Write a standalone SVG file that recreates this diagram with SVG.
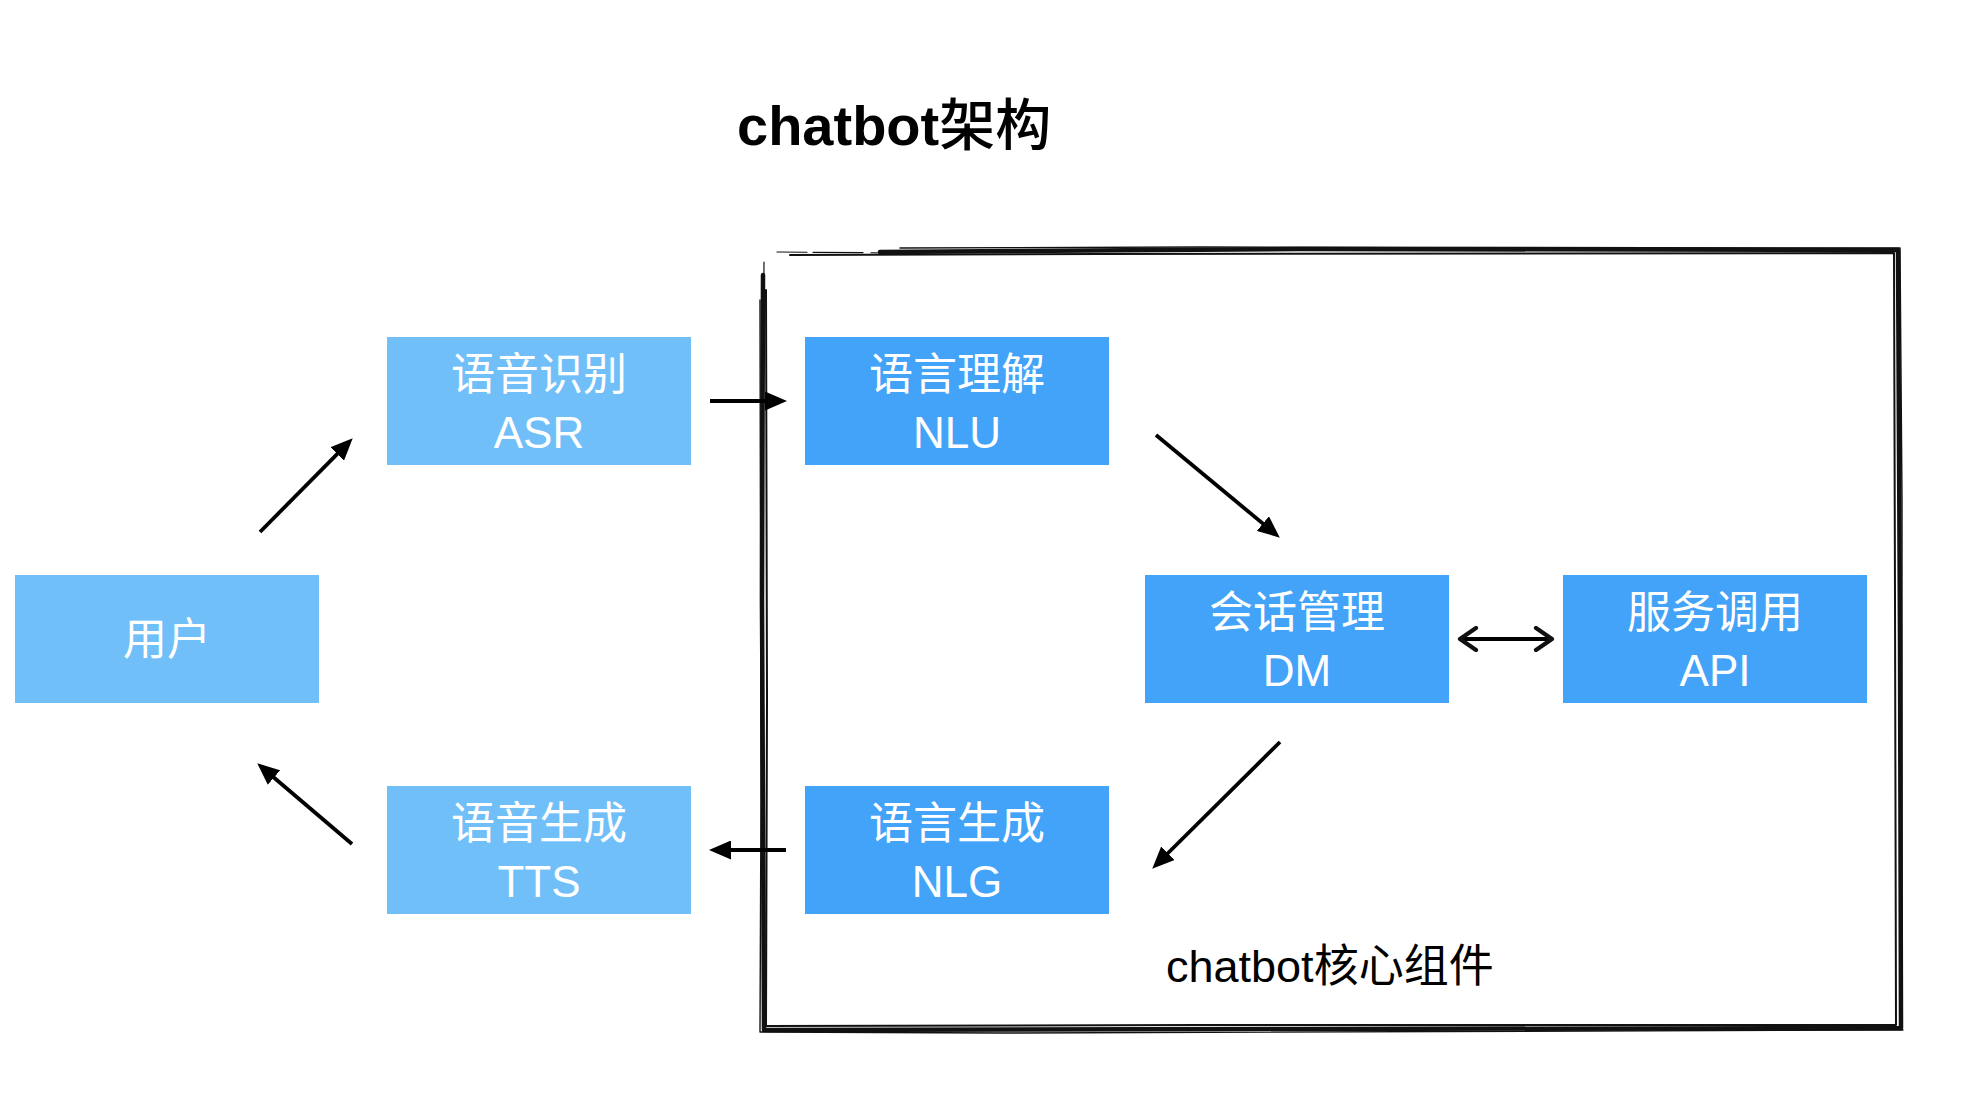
<svg xmlns="http://www.w3.org/2000/svg" width="1964" height="1096" viewBox="0 0 1964 1096">
<defs>
<style>
.light{fill:#70BFF8}
.dark{fill:#42A3F8}
.lbl{font-family:"Liberation Sans","Noto Sans CJK SC",sans-serif;font-size:44px;fill:#FFFFFF;text-anchor:middle}
.conn{stroke:#000;stroke-width:3.8;fill:none}
.frame{stroke:#111;fill:none;stroke-linejoin:round;stroke-linecap:round}
</style>
<marker id="ah" viewBox="0 0 22 19" refX="16" refY="9.5" markerWidth="22" markerHeight="19" markerUnits="userSpaceOnUse" orient="auto">
<path d="M0,0 L22,9.5 L0,19 z" fill="#000"/>
</marker>
<marker id="chev" viewBox="0 0 22 26" refX="19" refY="13" markerWidth="22" markerHeight="26" markerUnits="userSpaceOnUse" orient="auto-start-reverse">
<path d="M3,2 L19,13 L3,24" fill="none" stroke="#111" stroke-width="4.2" stroke-linecap="round" stroke-linejoin="round"/>
</marker>
</defs>
<rect width="1964" height="1096" fill="#FFFFFF"/>

<g id="title">
<text x="737" y="145" font-family="Liberation Sans,Noto Sans CJK SC,sans-serif" font-size="56" font-weight="bold" fill="#000">chatbot<tspan font-family="Noto Sans CJK SC,sans-serif" font-weight="500">架构</tspan></text>
</g>

<g id="frame">
<path class="frame" stroke-width="4.5" d="M763,275 L762,600 L764,1030 L1300,1029 L1901,1028 L1900,640 L1898,250 L1300,249 L880,252"/>
<path class="frame" stroke-width="2" d="M766,290 L767,700 L766,1026 L1200,1025 L1896,1025 L1895,600 L1894,253 L1100,254 L790,255"/>
<path class="frame" stroke-width="1.4" d="M760,300 L761,800 L760,1032 L1000,1033 L1903,1030 M1902,1030 L1902,500 L1900,248 L1200,247 L900,248"/>
<path class="frame" stroke-width="1.2" d="M764,262 L763,420"/>
<path class="frame" stroke-width="1.2" stroke-dasharray="30 6 50 8" d="M777,252 L900,253"/>
</g>

<g id="chatbot-core-label">
<text x="1166" y="982" font-family="Liberation Sans,Noto Sans CJK SC,sans-serif" font-size="45" fill="#000">chatbot<tspan font-family="Noto Sans CJK SC,sans-serif">核心组件</tspan></text>
</g>

<g id="user">
<rect class="light" x="15" y="575" width="304" height="128"/>
<text class="lbl" x="167" y="655" font-family="Noto Sans CJK SC,sans-serif">用户</text>
</g>

<g id="asr">
<rect class="light" x="387" y="337" width="304" height="128"/>
<text class="lbl" x="539" y="390">语音识别</text>
<text class="lbl" x="539" y="448">ASR</text>
</g>

<g id="tts">
<rect class="light" x="387" y="786" width="304" height="128"/>
<text class="lbl" x="539" y="839">语音生成</text>
<text class="lbl" x="539" y="897">TTS</text>
</g>

<g id="nlu">
<rect class="dark" x="805" y="337" width="304" height="128"/>
<text class="lbl" x="957" y="390">语言理解</text>
<text class="lbl" x="957" y="448">NLU</text>
</g>

<g id="dm">
<rect class="dark" x="1145" y="575" width="304" height="128"/>
<text class="lbl" x="1297" y="628">会话管理</text>
<text class="lbl" x="1297" y="686">DM</text>
</g>

<g id="api">
<rect class="dark" x="1563" y="575" width="304" height="128"/>
<text class="lbl" x="1715" y="628">服务调用</text>
<text class="lbl" x="1715" y="686">API</text>
</g>

<g id="nlg">
<rect class="dark" x="805" y="786" width="304" height="128"/>
<text class="lbl" x="957" y="839">语言生成</text>
<text class="lbl" x="957" y="897">NLG</text>
</g>

<g id="connectors">
<line class="conn" x1="260" y1="532" x2="348.5" y2="442.6" marker-end="url(#ah)"/>
<line class="conn" x1="710" y1="401" x2="781" y2="401" marker-end="url(#ah)"/>
<line class="conn" x1="1156" y1="435" x2="1275.2" y2="533.8" marker-end="url(#ah)"/>
<line class="conn" x1="1280" y1="742" x2="1156.5" y2="864.5" marker-end="url(#ah)"/>
<line class="conn" x1="786" y1="850" x2="715" y2="850" marker-end="url(#ah)"/>
<line class="conn" x1="352" y1="844" x2="261.8" y2="767.2" marker-end="url(#ah)"/>
<line class="conn" x1="1460" y1="639" x2="1552" y2="639" stroke="#111" marker-start="url(#chev)" marker-end="url(#chev)"/>
</g>
</svg>
